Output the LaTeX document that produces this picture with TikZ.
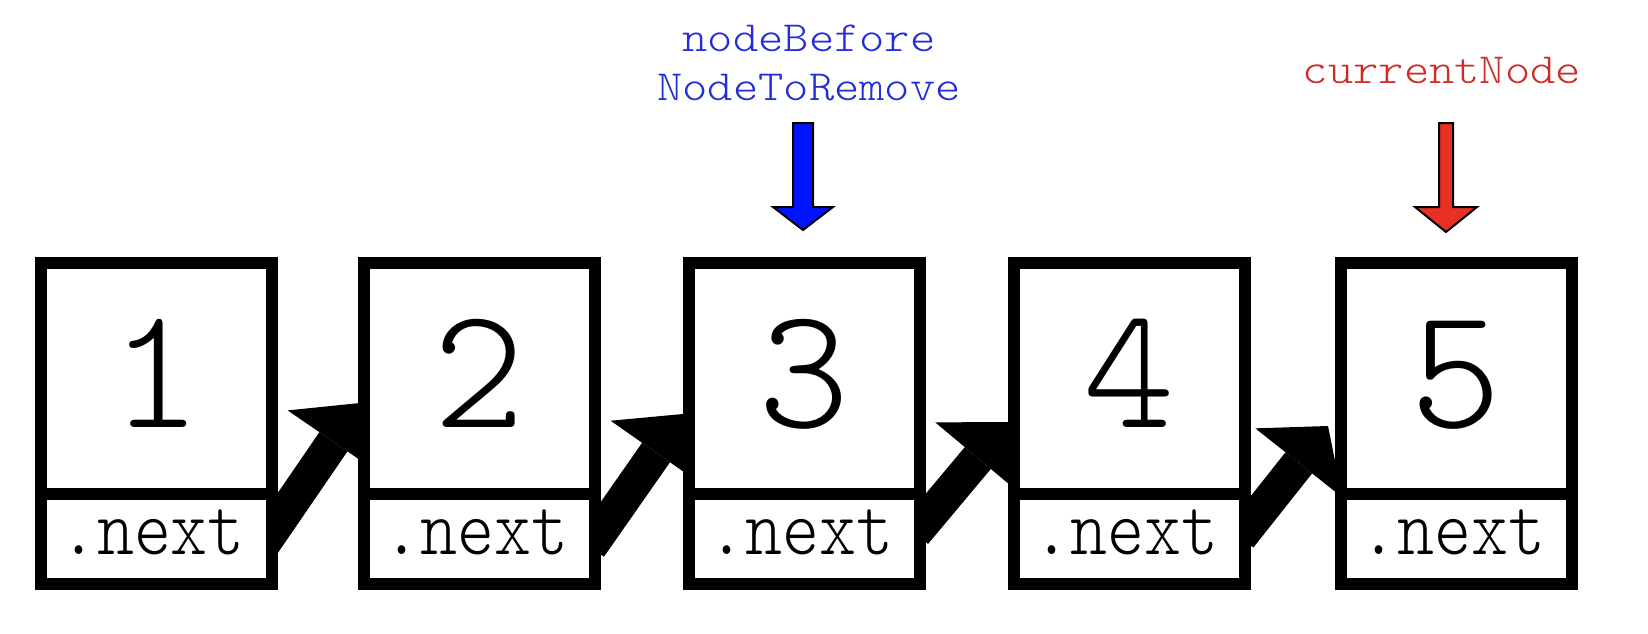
\documentclass[tikz,border=0pt]{standalone}
\usepackage{fontspec}
\newfontfamily\lightmono{Latin Modern Mono Light}
\usetikzlibrary{arrows.meta,calc}
\definecolor{lblblue}{RGB}{35,45,215}
\definecolor{lblred}{RGB}{205,45,40}
\definecolor{ptrblue}{RGB}{0,20,255}
\definecolor{ptrred}{RGB}{232,48,36}
\pgfdeclarelayer{bg}
\pgfsetlayers{bg,main}
\begin{document}
\begin{tikzpicture}[x=1pt,y=-1pt,
  upperbox/.style={draw, line width=12pt, fill=white, minimum width=231pt, minimum height=231pt, inner sep=0pt, outer sep=0pt},
  lowerbox/.style={draw, line width=12pt, fill=white, minimum width=231pt, minimum height=90pt, inner sep=0pt, outer sep=0pt},
  digit/.style={font=\lightmono\fontsize{174}{174}\selectfont, anchor=base, inner sep=0pt},
  nexttxt/.style={font=\lightmono\fontsize{81}{81}\selectfont, anchor=base, inner sep=0pt},
  lbl/.style={font=\lightmono\fontsize{43}{48}\selectfont, anchor=base, inner sep=0pt},
  link/.style={line width=34pt, -{Triangle[width=111pt,length=47pt,line width=0pt]}},
  ptr/.style={draw=black, line width=2pt, line join=miter}
]
\useasboundingbox (0,0) rectangle (1648,634);
\foreach \i/\cx in {1/156.5,2/479.5,3/804.5,4/1129.5,5/1456.5}{
  \node[upperbox] (b\i) at (\cx,378.5) {};
  \node[lowerbox] (n\i) at (\cx,539) {};
  \node[digit] (d\i) at (\cx,427) {\i};
  \node[nexttxt] (t\i) at (\cx-4,554) {\scalebox{0.87}[1]{.next}};
}
% links
\coordinate (s1) at ($(n1.east)+(-10,7)$);
\coordinate (e1) at ($(b2.west)+(-4,24.5)$);
\coordinate (s2) at ($(n2.east)+(-5,8)$);
\coordinate (e2) at ($(b3.west)+(-6,35.5)$);
\coordinate (s3) at ($(n3.east)+(-5,-6)$);
\coordinate (e3) at ($(b4.west)+(-6,43.5)$);
\coordinate (s4) at ($(n4.east)+(-5,-2)$);
\coordinate (e4) at ($(b5.west)+(-13,47.5)$);
\begin{pgfonlayer}{bg}
\draw[link] (s1) -- (e1);
\draw[link] (s2) -- (e2);
\draw[link] (s3) -- (e3);
\draw[link] (s4) -- (e4);
\end{pgfonlayer}
% labels
\node[lbl, text=lblblue] (lb1) at (809,52) {\scalebox{1.12}[1]{nodeBefore}};
\node[lbl, text=lblblue] (lb2) at (809,100) {\scalebox{1.12}[1]{NodeToRemove}};
\node[lbl, text=lblred] (lr) at (1442,83) {\scalebox{1.12}[1]{currentNode}};
% pointer arrows
\coordinate (pb) at ($(b3.north)+(-1.5,-33)$);
\coordinate (pr) at ($(b5.north)+(-10.5,-31)$);
\draw[ptr, fill=ptrblue] (pb) -- ++(-30,-23) -- ++(20,0) -- ++(0,-84) -- ++(20,0) -- ++(0,84) -- ++(20,0) -- cycle;
\draw[ptr, fill=ptrred] (pr) -- ++(-31,-25) -- ++(24,0) -- ++(0,-84) -- ++(14,0) -- ++(0,84) -- ++(24,0) -- cycle;
\end{tikzpicture}
\end{document}
